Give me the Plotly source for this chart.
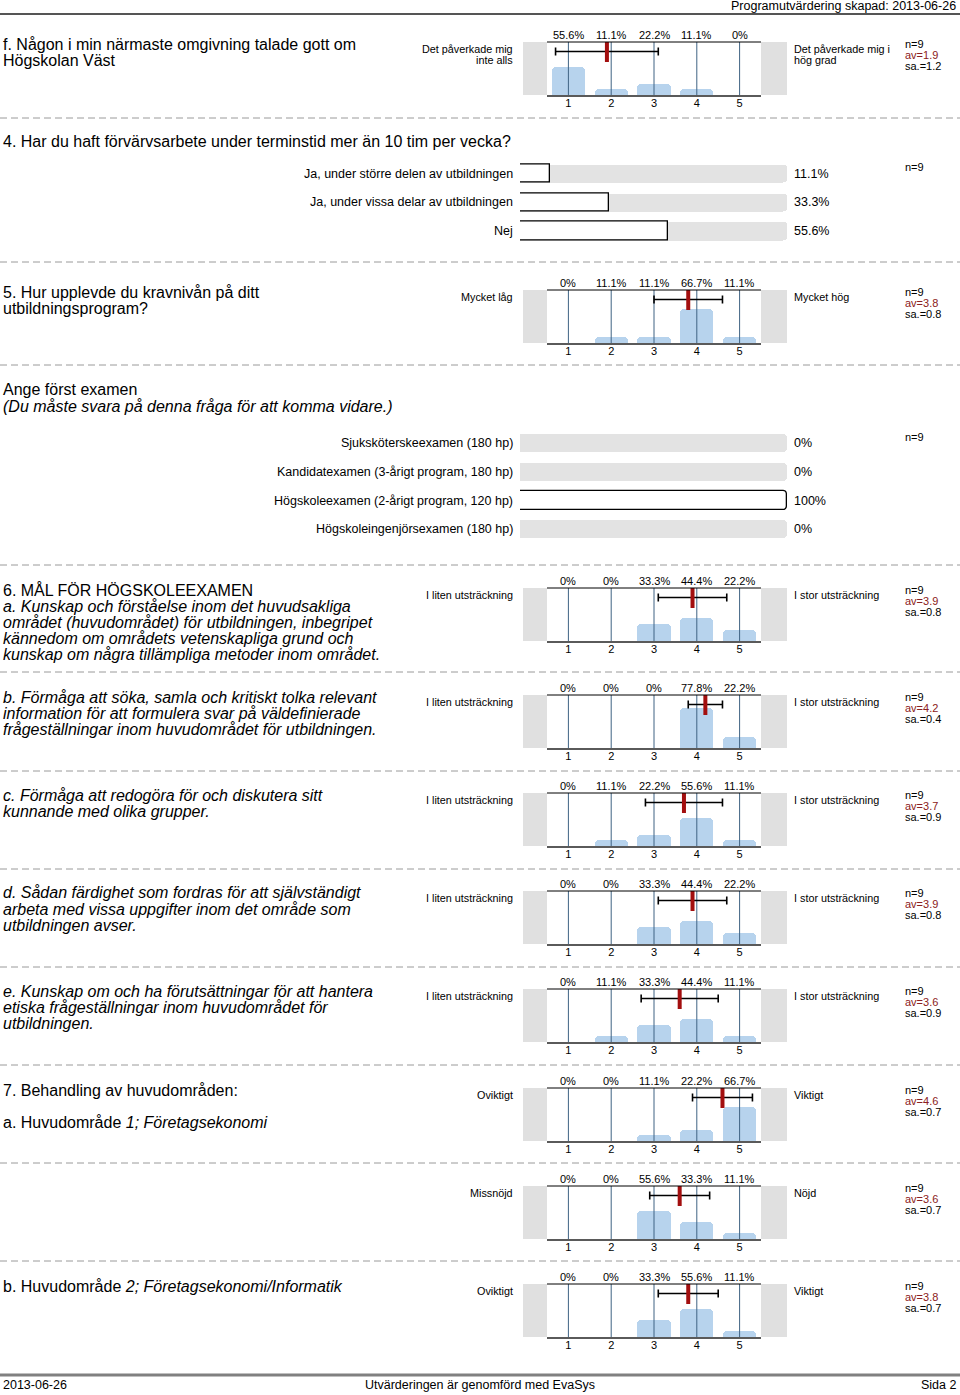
import plotly.graph_objects as go

W, H = 960, 1395
FONT = "Liberation Sans, Arial, sans-serif"


def px(x):
    return x / W


def py(y):
    return 1 - y / H


# ---------------- data ----------------
scale_points = [1, 2, 3, 4, 5]
scale_ticks = ["1", "2", "3", "4", "5"]

hist_pct = [
    [55.6, 11.1, 22.2, 11.1, 0.0],   # f
    [0.0, 11.1, 11.1, 66.7, 11.1],   # 5
    [0.0, 0.0, 33.3, 44.4, 22.2],    # 6a
    [0.0, 0.0, 0.0, 77.8, 22.2],     # 6b
    [0.0, 11.1, 22.2, 55.6, 11.1],   # 6c
    [0.0, 0.0, 33.3, 44.4, 22.2],    # 6d
    [0.0, 11.1, 33.3, 44.4, 11.1],   # 6e
    [0.0, 0.0, 11.1, 22.2, 66.7],    # 7a
    [0.0, 0.0, 55.6, 33.3, 11.1],    # 7a (nöjd)
    [0.0, 0.0, 33.3, 55.6, 11.1],    # 7b
]
hist_n = [9, 9, 9, 9, 9, 9, 9, 9, 9, 9]
hist_av = [1.9, 3.8, 3.9, 4.2, 3.7, 3.9, 3.6, 4.6, 3.6, 3.8]
hist_sa = [1.2, 0.8, 0.8, 0.4, 0.9, 0.8, 0.9, 0.7, 0.7, 0.7]
hist_left = ["Det påverkade mig<br>inte alls", "Mycket låg",
             "I liten utsträckning", "I liten utsträckning", "I liten utsträckning",
             "I liten utsträckning", "I liten utsträckning",
             "Oviktigt", "Missnöjd", "Oviktigt"]
hist_right = ["Det påverkade mig i<br>hög grad", "Mycket hög",
              "I stor utsträckning", "I stor utsträckning", "I stor utsträckning",
              "I stor utsträckning", "I stor utsträckning",
              "Viktigt", "Nöjd", "Viktigt"]
hist_question = [
    ["f. Någon i min närmaste omgivning talade gott om", "Högskolan Väst"],
    ["5. Hur upplevde du kravnivån på ditt", "utbildningsprogram?"],
    ["6. MÅL FÖR HÖGSKOLEEXAMEN",
     "<i>a. Kunskap och förståelse inom det huvudsakliga</i>",
     "<i>området (huvudområdet) för utbildningen, inbegripet</i>",
     "<i>kännedom om områdets vetenskapliga grund och</i>",
     "<i>kunskap om några tillämpliga metoder inom området.</i>"],
    ["<i>b. Förmåga att söka, samla och kritiskt tolka relevant</i>",
     "<i>information för att formulera svar på väldefinierade</i>",
     "<i>frågeställningar inom huvudområdet för utbildningen.</i>"],
    ["<i>c. Förmåga att redogöra för och diskutera sitt</i>",
     "<i>kunnande med olika grupper.</i>"],
    ["<i>d. Sådan färdighet som fordras för att självständigt</i>",
     "<i>arbeta med vissa uppgifter inom det område som</i>",
     "<i>utbildningen avser.</i>"],
    ["<i>e. Kunskap om och ha förutsättningar för att hantera</i>",
     "<i>etiska frågeställningar inom huvudområdet för</i>",
     "<i>utbildningen.</i>"],
    ["7. Behandling av huvudområden:", "", "a. Huvudområde <i>1; Företagsekonomi</i>"],
    [],
    ["b. Huvudområde <i>2; Företagsekonomi/Informatik</i>"],
]

work_labels = ["Ja, under större delen av utbildningen",
               "Ja, under vissa delar av utbildningen", "Nej"]
work_pct = [11.1, 33.3, 55.6]
work_n = 9
work_title = "4. Har du haft förvärvsarbete under terminstid mer än 10 tim per vecka?"

exam_labels = ["Sjuksköterskeexamen (180 hp)",
               "Kandidatexamen (3-årigt program, 180 hp)",
               "Högskoleexamen (2-årigt program, 120 hp)",
               "Högskoleingenjörsexamen (180 hp)"]
exam_pct = [0.0, 0.0, 100.0, 0.0]
exam_n = 9
exam_title = ["Ange först examen",
              "<i>(Du måste svara på denna fråga för att komma vidare.)</i>"]

header_text = "Programutvärdering skapad: 2013-06-26"
footer_left = "2013-06-26"
footer_mid = "Utvärderingen är genomförd med EvaSys"
footer_right = "Sida 2"

# ---------------- layout geometry (pixels) ----------------
hist_top = [42, 290, 588, 695, 793, 891, 989, 1088, 1186, 1284]
HIST_H = 53
PLOT_X0, PLOT_X1 = 547, 761
YMAX = 104.0
separators = [118, 262, 365, 565, 672, 771, 869, 967, 1065, 1163, 1261]

BAR_BLUE = "#b7d3ed"
GRID_BLUE = "#3f6383"
RED = "#a30f0f"
AV_RED = "#8b2020"

fig = go.Figure()
layout = dict(
    width=W, height=H, margin=dict(l=0, r=0, t=0, b=0),
    paper_bgcolor="white", plot_bgcolor="rgba(0,0,0,0)",
    showlegend=False, font=dict(family=FONT, color="black"),
    bargap=0, barmode="overlay",
)
shapes = []
annotations = []


def ann(text, x, y, size, xanchor="left", yanchor="middle", color="black",
        xref="paper", yref="paper", ypx=True):
    annotations.append(dict(
        text=text, x=x, y=py(y) if ypx else y, xref=xref, yref=yref,
        xanchor=xanchor, yanchor=yanchor, showarrow=False,
        font=dict(size=size, color=color, family=FONT), borderpad=0,
    ))


ax_i = 0


def axnames(i):
    return ("x" if i == 1 else f"x{i}"), ("y" if i == 1 else f"y{i}")


# ---------------- histogram blocks ----------------
for b in range(len(hist_pct)):
    ax_i += 1
    xr, yr = axnames(ax_i)
    T = hist_top[b]
    B = T + HIST_H
    layout["xaxis" if ax_i == 1 else f"xaxis{ax_i}"] = dict(
        domain=[px(PLOT_X0), px(PLOT_X1)], range=[0.5, 5.5], anchor=yr,
        tickvals=scale_points, ticktext=scale_ticks, ticks="", showgrid=False,
        zeroline=False, showline=True, linecolor="#5a5a5a", linewidth=2,
        tickfont=dict(size=11, family=FONT, color="black"), fixedrange=True,
        ticklabelstandoff=-3,
    )
    layout["yaxis" if ax_i == 1 else f"yaxis{ax_i}"] = dict(
        domain=[py(B), py(T)], range=[0, YMAX], anchor=xr, visible=False,
        fixedrange=True,
    )
    # bars
    fig.add_trace(go.Bar(
        x=scale_points, y=hist_pct[b], xaxis=xr, yaxis=yr, width=0.78,
        marker=dict(color=BAR_BLUE, line=dict(width=0), cornerradius=4),
        hoverinfo="skip",
    ))
    # vertical scale lines
    lx, ly = [], []
    for k in scale_points:
        lx += [k, k, None]
        ly += [0, YMAX, None]
    fig.add_trace(go.Scatter(
        x=lx, y=ly, xaxis=xr, yaxis=yr, mode="lines",
        line=dict(color=GRID_BLUE, width=1), hoverinfo="skip",
    ))
    # error bar (mean +- sd)
    ye = YMAX * (1 - 9.5 / HIST_H)
    fig.add_trace(go.Scatter(
        x=[hist_av[b]], y=[ye], xaxis=xr, yaxis=yr, mode="markers",
        marker=dict(size=1, color="black"),
        error_x=dict(type="data", array=[hist_sa[b]], symmetric=True,
                     color="black", thickness=1.6, width=4),
        hoverinfo="skip",
    ))
    fig.add_trace(go.Scatter(
        x=[hist_av[b]], y=[ye], xaxis=xr, yaxis=yr, mode="markers",
        marker=dict(symbol="line-ns", size=15,
                    line=dict(width=4, color=RED), color=RED),
        hoverinfo="skip",
    ))
    # top line
    shapes.append(dict(type="line", xref=f"{xr} domain", yref=f"{yr} domain",
                       x0=0, x1=1, y0=1, y1=1, line=dict(color="black", width=1)))
    # grey side boxes
    shapes.append(dict(type="rect", xref="paper", yref="paper",
                       x0=px(523), x1=px(PLOT_X0), y0=py(B), y1=py(T),
                       fillcolor="#e0e0e0", line=dict(width=0), layer="below"))
    shapes.append(dict(type="rect", xref="paper", yref="paper",
                       x0=px(PLOT_X1), x1=px(787), y0=py(B), y1=py(T),
                       fillcolor="#e0e0e0", line=dict(width=0), layer="below"))
    # percentages above
    for k, v in zip(scale_points, hist_pct[b]):
        ann(f"{v:g}%", k, T - 7, 11, xanchor="center", xref=xr)
    # left / right labels
    for j, part in enumerate(hist_left[b].split("<br>")):
        ann(part, px(514), T + 7 + 11 * j, 10.8, xanchor="right")
    for j, part in enumerate(hist_right[b].split("<br>")):
        ann(part, px(793), T + 7 + 11 * j, 10.8, xanchor="left")
    # stats
    ann(f"n={hist_n[b]}", px(904), T + 2, 11)
    ann(f"av={hist_av[b]:g}", px(904), T + 13, 11, color=AV_RED)
    ann(f"sa.={hist_sa[b]:g}", px(904), T + 24, 11)
    # question text
    for j, line in enumerate(hist_question[b]):
        if line:
            ann(line, px(2), T + 2 + 16.2 * j, 16)


# ---------------- horizontal bar blocks ----------------
def hbar_block(labels, pct, n, top_px, row_h=28.6):
    global ax_i
    ax_i += 1
    xr, yr = axnames(ax_i)
    m = len(labels)
    y0 = top_px
    y1 = top_px + row_h * m
    layout[f"xaxis{ax_i}"] = dict(domain=[px(520), px(787)], range=[0, 100],
                                  anchor=yr, visible=False, fixedrange=True)
    layout[f"yaxis{ax_i}"] = dict(domain=[py(y1), py(y0)], range=[m - 0.5, -0.5],
                                  anchor=xr, visible=False, fixedrange=True)
    pos = list(range(m))
    fig.add_trace(go.Bar(
        x=[100] * m, y=pos, orientation="h", xaxis=xr, yaxis=yr, width=0.64,
        marker=dict(color="#e3e3e3", line=dict(width=0), cornerradius=4),
        hoverinfo="skip",
    ))
    fig.add_trace(go.Bar(
        x=[v if v > 0 else None for v in pct], y=pos, orientation="h",
        xaxis=xr, yaxis=yr, width=0.64,
        marker=dict(color="white", line=dict(width=1.3, color="black"), cornerradius=4),
        hoverinfo="skip",
    ))
    for j, (lab, v) in enumerate(zip(labels, pct)):
        yc = y0 + row_h * (j + 0.5)
        ann(lab, px(514), yc, 12.5, xanchor="right")
        ann(f"{v:g}%", px(793), yc, 12.5, xanchor="left")
    ann(f"n={n}", px(904), y0 + 8, 11)


ann(work_title, px(2), 142, 16)
hbar_block(work_labels, work_pct, work_n, 159.5)

ann(exam_title[0], px(2), 390, 16)
ann(exam_title[1], px(2), 406, 16)
hbar_block(exam_labels, exam_pct, exam_n, 429)

# ---------------- separators, header, footer ----------------
for s in separators:
    shapes.append(dict(type="line", xref="paper", yref="paper", x0=0, x1=1,
                       y0=py(s), y1=py(s),
                       line=dict(color="#9a9a9a", width=1, dash="7px,4px")))
shapes.append(dict(type="line", xref="paper", yref="paper", x0=0, x1=1,
                   y0=py(14), y1=py(14), line=dict(color="#555555", width=2)))
shapes.append(dict(type="line", xref="paper", yref="paper", x0=0, x1=1,
                   y0=py(1375), y1=py(1375), line=dict(color="#808080", width=3)))

ann(header_text, px(957), 6, 12.5, xanchor="right")
ann(footer_left, px(2), 1385, 12.5, xanchor="left")
ann(footer_mid, 0.5, 1385, 12.5, xanchor="center")
ann(footer_right, px(957), 1385, 12.5, xanchor="right")

layout["shapes"] = shapes
layout["annotations"] = annotations
fig.update_layout(**layout)
fig.write_html(
    "out.html",
    config={"displayModeBar": False},
    post_script="document.body.style.margin='0';document.body.style.overflow='hidden';",
)
